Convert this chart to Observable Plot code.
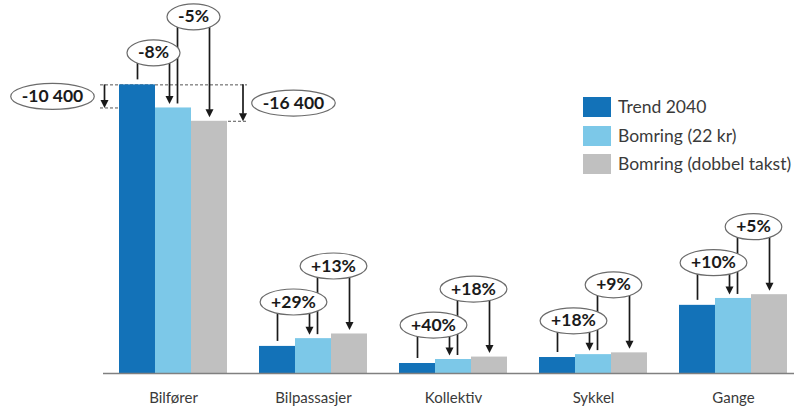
<!DOCTYPE html>
<html><head><meta charset="utf-8">
<script src="https://cdn.jsdelivr.net/npm/d3@7"></script>
<script src="https://cdn.jsdelivr.net/npm/@observablehq/plot@0.6"></script>
<style>
body{margin:0;background:#fff;}
#wrap{position:relative;width:794px;height:407px;font-family:Lato, sans-serif;}
#legend{position:absolute;left:583px;top:93px;font-size:17.5px;color:#3a3a3a;}
.row{display:flex;align-items:center;height:28.5px;}
.sw{width:28px;height:20px;margin-right:7px;flex:none;}
.row span{line-height:20px;white-space:nowrap;}
</style></head><body><div id="wrap"></div>
<script>
const categories = ["Bilfører", "Bilpassasjer", "Kollektiv", "Sykkel", "Gange"];
const series = ["Trend 2040", "Bomring (22 kr)", "Bomring (dobbel takst)"];
const colors = ["#1372b8", "#7cc8e8", "#c0c0c0"];
const trend = [130000, 12200, 4500, 7200, 30700];
const bomring = [119600, 15700, 6300, 8500, 33800];
const dobbel = [113600, 17800, 7400, 9300, 35500];
const changeBomring = ["-8%", "+29%", "+40%", "+18%", "+10%"];
const changeDobbel = ["-5%", "+13%", "+18%", "+9%", "+5%"];
const diffLabels = ["-10 400", "-16 400"];

const bars = categories.flatMap((c, i) => [
  {category: c, series: series[0], value: trend[i]},
  {category: c, series: series[1], value: bomring[i]},
  {category: c, series: series[2], value: dobbel[i]}
]);
const groupMax = i => Math.max(trend[i], bomring[i], dobbel[i]);
const b1 = categories.map((c, i) => ({category: c, from: series[0], to: series[1], fromValue: trend[i], toValue: bomring[i], level: groupMax(i), label: changeBomring[i]}));
const b2 = categories.map((c, i) => ({category: c, from: series[1], to: series[2], fromValue: bomring[i], toValue: dobbel[i], level: groupMax(i), label: changeDobbel[i]}));
const diffs = [
  {category: categories[0], x: series[0], top: trend[0], bottom: bomring[0], label: diffLabels[0]},
  {category: categories[0], x: series[2], top: trend[0], bottom: dobbel[0], label: diffLabels[1]}
];

const labelFont = 17.5;
const ctx = document.createElement("canvas").getContext("2d");
ctx.font = `bold ${labelFont}px Lato`;
const tw = s => ctx.measureText(s).width;

function ellipse(rx, ry) {
  const k = 0.5523;
  return {draw(p) {
    p.moveTo(rx, 0);
    p.bezierCurveTo(rx, ry * k, rx * k, ry, 0, ry);
    p.bezierCurveTo(-rx * k, ry, -rx, ry * k, -rx, 0);
    p.bezierCurveTo(-rx, -ry * k, -rx * k, -ry, 0, -ry);
    p.bezierCurveTo(rx * k, -ry, rx, -ry * k, rx, 0);
    p.closePath();
  }};
}
const triDown = {draw(p) { p.moveTo(-4, -8); p.lineTo(4, -8); p.lineTo(0, 0); p.closePath(); }};

const ink = "#1a1a1a";
const line = {stroke: ink, strokeWidth: 1.7};

function labelMarks(data, opts) {
  const out = [];
  for (const d of data) {
    const w = tw(d.label);
    out.push(Plot.dot([d], {fx: "category", ...opts, r: 5, symbol: ellipse(w / 2 + 11, 13), fill: "white", stroke: "#6b6b6b", strokeWidth: 1.2}));
  }
  out.push(Plot.text(data, {fx: "category", ...opts, text: "label", fontWeight: "bold", fontSize: labelFont, fill: ink}));
  return out;
}

const plot = Plot.plot({
  width: 794, height: 407,
  marginTop: 0, marginBottom: 34, marginLeft: 118, marginRight: 6,
  style: {fontFamily: "Lato, sans-serif", fontSize: "15px", color: "#3a3a3a", background: "white"},
  fx: {domain: categories, paddingInner: 0.2143, paddingOuter: 0, label: null, tickSize: 0, tickPadding: 19},
  x: {domain: series, padding: 0, axis: null},
  y: {domain: [0, 168000], axis: null},
  color: {domain: series, range: colors},
  marks: [
    // Bilfører guide lines
    Plot.ruleY([diffs[0]], {fx: "category", y: "top", insetLeft: -18, insetRight: -19, stroke: "#555", strokeDasharray: "3,2", strokeWidth: 1}),
    Plot.ruleY([diffs[0]], {fx: "category", y: "bottom", insetLeft: -18, insetRight: 110, stroke: "#555", strokeDasharray: "3,2", strokeWidth: 1}),
    Plot.ruleY([diffs[1]], {fx: "category", y: "bottom", insetLeft: 110, insetRight: -20, stroke: "#555", strokeDasharray: "3,2", strokeWidth: 1}),
    Plot.barY(bars, {fx: "category", x: "series", y: "value", fill: "series"}),
    Plot.ruleY([0], {insetLeft: -15, insetRight: -15, stroke: "#808080", strokeWidth: 1.5}),
    // difference arrows for Bilfører
    Plot.ruleX([diffs[0]], {fx: "category", x: "x", y1: "top", y2: "bottom", insetBottom: 7, dx: -33, ...line}),
    Plot.dot([diffs[0]], {fx: "category", x: "x", y: "bottom", dx: -33, symbol: triDown, r: 4, fill: ink}),
    Plot.ruleX([diffs[1]], {fx: "category", x: "x", y1: "top", y2: "bottom", insetBottom: 7, dx: 33.5, ...line}),
    Plot.dot([diffs[1]], {fx: "category", x: "x", y: "bottom", dx: 33.5, symbol: triDown, r: 4, fill: ink}),
    // brackets
    Plot.ruleX(b1, {fx: "category", x: "from", y1: "level", y2: "fromValue", insetTop: -32, insetBottom: 5, ...line}),
    Plot.ruleX(b1, {fx: "category", x: "to", y1: "level", y2: "toValue", insetTop: -32, insetBottom: 11, dx: -4, ...line}),
    Plot.dot(b1, {fx: "category", x: "to", y: "toValue", dy: -4, dx: -4, symbol: triDown, r: 4, fill: ink}),
    Plot.ruleX(b2, {fx: "category", x: "from", y1: "level", y2: "fromValue", insetTop: -68, insetBottom: 4, dx: 4, ...line}),
    Plot.ruleX(b2, {fx: "category", x: "to", y1: "level", y2: "toValue", insetTop: -68, insetBottom: 11, ...line}),
    Plot.dot(b2, {fx: "category", x: "to", y: "toValue", dy: -4, symbol: triDown, r: 4, fill: ink}),
    ...labelMarks(b1, {x: "from", y: "level", dx: 16, dy: -32}),
    ...labelMarks(b2, {x: "from", y: "level", dx: 20, dy: -68}),
    ...labelMarks([diffs[0]], {x: "x", y: d => (d.top + d.bottom) / 2, dx: -85}),
    ...labelMarks([diffs[1]], {x: "x", y: d => (d.top + d.bottom) / 2, dx: 84})
  ]
});

const wrap = document.getElementById("wrap");
wrap.appendChild(plot);
const legend = document.createElement("div");
legend.id = "legend";
series.forEach((s, i) => {
  const row = document.createElement("div");
  row.className = "row";
  const sw = document.createElement("div");
  sw.className = "sw";
  sw.style.background = colors[i];
  const t = document.createElement("span");
  t.textContent = s;
  row.appendChild(sw); row.appendChild(t);
  legend.appendChild(row);
});
wrap.appendChild(legend);
</script></body></html>
